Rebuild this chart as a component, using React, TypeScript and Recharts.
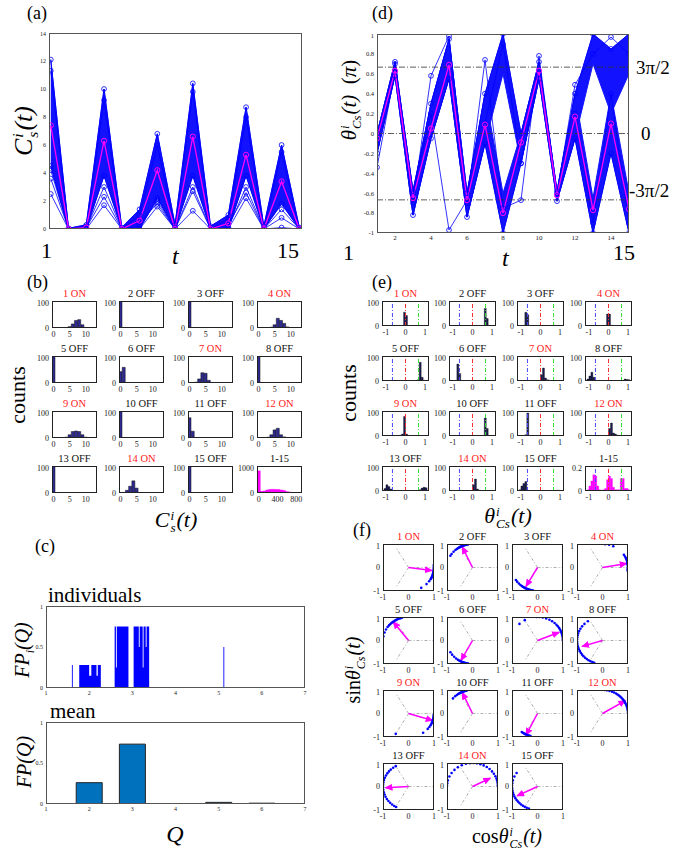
import React from 'react';
import {
  ComposedChart,
  BarChart,
  Bar,
  Line,
  Area,
  XAxis,
  YAxis,
  ReferenceLine,
  Scatter,
} from 'recharts';

const SERIF = '"Liberation Serif", "DejaVu Serif", serif';

// ---- (a) and (d): time steps ----
const T_STEPS = [1, 2, 3, 4, 5, 6, 7, 8, 9, 10, 11, 12, 13, 14, 15];

// (a) C_s^i(t)
const C_MEAN = [7.4, 0, 0.1, 6.3, 0, 0.6, 4.2, 0, 6.6, 0, 0.4, 5.3, 0, 3.4, 0];
const C_HI = [12.1, 0.05, 0.3, 10.0, 0.1, 1.4, 6.8, 0.3, 10.4, 0.2, 1.0, 8.7, 0.2, 6.0, 0.1];
const C_DENSE_LO = [4.5, 0, 0, 3.8, 0, 0, 2.2, 0, 3.8, 0, 0, 3.8, 0, 1.8, 0];
const C_LINE_1 = [3.6, 0, 0.05, 3.0, 0, 0.2, 2.0, 0, 3.0, 0, 0.1, 3.0, 0, 1.4, 0];
const C_LINE_2 = [2.5, 0, 0, 1.7, 0, 0, 1.6, 0, 1.3, 0, 0, 2.2, 0, 0.1, 0];
const C_LINE_3 = [4.2, 0.02, 0.1, 2.3, 0, 0.5, 1.8, 0, 2.7, 0, 0.3, 2.6, 0, 0.8, 0];
const C_LINE_4 = [11.3, 0, 0.2, 9.2, 0, 1.0, 6.0, 0.1, 9.8, 0, 0.7, 8.0, 0, 5.5, 0];

// (d) theta_Cs(t) in units of pi
const TH_MEAN = [-0.05, 0.63, -0.65, 0.05, 0.69, -0.67, 0.09, -0.8, -0.09, 0.63, -0.62, 0.17, -0.77, 0.1, -0.76];
const TH_UP_LO = [-0.2, 0.58, -0.82, -0.05, 0.55, -0.84, -0.1, 0.6, -0.3, 0.55, -0.68, -0.05, 0.7, 0.2, 0.6];
const TH_UP_HI = [0.0, 0.72, -0.58, 0.3, 0.95, -0.6, 0.4, 1.0, 0.0, 0.72, -0.58, 0.4, 1.0, 0.85, 1.0];
const TH_DN_LO = [-0.2, 0.58, -0.82, -0.05, 0.55, -0.84, -0.1, -1.0, -0.3, 0.55, -0.68, -0.05, -1.0, -0.2, -1.0];
const TH_DN_HI = [0.0, 0.72, -0.58, 0.3, 0.95, -0.6, 0.4, -0.6, 0.0, 0.72, -0.58, 0.4, -0.65, 0.4, -0.6];
const TH_OUT_1 = [-0.34, 0.62, -0.7, 0.58, 0.98, -0.7, 0.74, -0.75, -0.67, 0.78, -0.6, 0.49, 0.8, 0.97, 0.8];
const TH_OUT_2 = [-0.1, 0.7, -0.6, 0.2, -0.97, -0.67, 0.1, 0.9, -0.3, 0.6, -0.62, 0.2, -0.9, 0.4, -0.9];

// ---- (b) histograms of C_s^i(t) ----
const C_BINS = [0, 1, 2, 3, 4, 5, 6, 7, 8, 9, 10, 11, 12, 13];
const C_COUNTS = [
  [0, 0, 0, 0, 1, 5, 15, 28, 31, 12, 2, 0, 0, 0],
  [100, 0, 0, 0, 0, 0, 0, 0, 0, 0, 0, 0, 0, 0],
  [100, 0, 0, 0, 0, 0, 0, 0, 0, 0, 0, 0, 0, 0],
  [0, 0, 0, 0, 3, 12, 36, 28, 17, 4, 0, 0, 0, 0],
  [100, 0, 0, 0, 0, 0, 0, 0, 0, 0, 0, 0, 0, 0],
  [42, 58, 0, 0, 0, 0, 0, 0, 0, 0, 0, 0, 0, 0],
  [0, 0, 3, 15, 38, 36, 10, 2, 0, 0, 0, 0, 0, 0],
  [100, 0, 0, 0, 0, 0, 0, 0, 0, 0, 0, 0, 0, 0],
  [0, 0, 0, 0, 3, 12, 24, 26, 24, 12, 3, 0, 0, 0],
  [100, 0, 0, 0, 0, 0, 0, 0, 0, 0, 0, 0, 0, 0],
  [75, 25, 0, 0, 0, 0, 0, 0, 0, 0, 0, 0, 0, 0],
  [0, 0, 0, 3, 12, 30, 36, 12, 4, 0, 0, 0, 0, 0],
  [100, 0, 0, 0, 0, 0, 0, 0, 0, 0, 0, 0, 0, 0],
  [0, 2, 10, 25, 45, 18, 2, 0, 0, 0, 0, 0, 0, 0],
  [100, 0, 0, 0, 0, 0, 0, 0, 0, 0, 0, 0, 0, 0],
];
const C_TOTAL_BINS = [0, 60, 120, 180, 240, 300, 360, 420, 480, 540, 600, 660, 720, 780, 840];
const C_TOTAL = [820, 60, 70, 110, 130, 135, 130, 125, 110, 90, 50, 30, 20, 15, 10];

// ---- (e) histograms of theta (units of pi) ----
const E_BINS = [-1.05, -0.95, -0.85, -0.75, -0.65, -0.55, -0.45, -0.35, -0.25, -0.15, -0.05,
  0.05, 0.15, 0.25, 0.35, 0.45, 0.55, 0.65, 0.75, 0.85, 0.95, 1.05];
const E_COUNTS = [
  [0, 0, 0, 0, 0, 0, 0, 0, 0, 0, 55, 42, 0, 0, 0, 0, 0, 0, 0, 0, 0, 0],
  [0, 0, 0, 0, 0, 0, 0, 0, 0, 0, 0, 0, 0, 0, 0, 0, 0, 70, 30, 0, 0, 0],
  [0, 0, 0, 55, 45, 0, 0, 0, 0, 0, 0, 0, 0, 0, 0, 0, 0, 0, 0, 0, 0, 0],
  [0, 0, 0, 0, 0, 0, 0, 0, 0, 0, 48, 48, 3, 0, 0, 0, 0, 0, 0, 0, 0, 0],
  [0, 0, 0, 0, 0, 0, 0, 0, 0, 0, 0, 0, 0, 0, 0, 0, 0, 5, 75, 15, 3, 0],
  [0, 0, 0, 68, 30, 0, 0, 0, 0, 0, 0, 0, 0, 0, 0, 0, 0, 0, 0, 0, 0, 0],
  [0, 0, 0, 0, 0, 0, 0, 0, 0, 0, 0, 25, 52, 12, 5, 3, 0, 0, 0, 0, 0, 0],
  [8, 20, 35, 15, 0, 0, 0, 0, 0, 0, 0, 0, 0, 0, 0, 0, 0, 0, 0, 8, 6, 5],
  [0, 0, 0, 0, 0, 0, 0, 0, 3, 8, 78, 8, 0, 0, 0, 0, 0, 0, 0, 0, 0, 0],
  [0, 0, 0, 0, 0, 0, 0, 0, 0, 0, 0, 0, 0, 0, 0, 0, 0, 72, 30, 0, 0, 0],
  [0, 0, 0, 5, 92, 0, 0, 0, 0, 0, 0, 0, 0, 0, 0, 0, 0, 0, 0, 0, 0, 0],
  [0, 0, 0, 0, 0, 0, 0, 0, 0, 0, 0, 30, 52, 12, 8, 3, 0, 0, 0, 0, 0, 0],
  [10, 25, 18, 8, 0, 0, 0, 0, 0, 0, 0, 0, 0, 0, 0, 0, 0, 0, 5, 12, 15, 13],
  [0, 0, 0, 0, 0, 0, 0, 0, 0, 0, 0, 25, 48, 8, 4, 0, 2, 0, 0, 2, 1, 0],
  [5, 20, 30, 38, 0, 0, 0, 0, 0, 0, 0, 0, 0, 0, 0, 0, 0, 0, 0, 3, 3, 0],
];
const E_TOTAL = [0.01, 0.04, 0.08, 0.13, 0.12, 0.04, 0.01, 0.005, 0.01, 0.02, 0.09,
  0.12, 0.1, 0.03, 0.01, 0.01, 0.01, 0.1, 0.1, 0.02, 0.02, 0.01];

const PANEL_TITLES = ['1 ON', '2 OFF', '3 OFF', '4 ON', '5 OFF', '6 OFF', '7 ON', '8 OFF',
  '9 ON', '10 OFF', '11 OFF', '12 ON', '13 OFF', '14 ON', '15 OFF'];
const PANEL_ON = [true, false, false, true, false, false, true, false, true, false, false, true, false, true, false];

// ---- (c) FP(Q) ----
const IND_Q = [1, 1.6, 1.62, 1.77, 2.0, 2.05, 2.17, 2.2, 2.27, 2.59, 2.62, 2.64, 2.91, 3.03,
  3.15, 3.17, 3.24, 3.26, 3.31, 3.33, 3.39, 5.11, 5.13, 7];
const IND_FP = [0, 0.28, 0, 0.28, 0.15, 0.28, 0.15, 0.28, 0, 0.75, 0.25, 0.75, 0, 0.75,
  0.5, 0.75, 0.25, 0.75, 0.5, 0.75, 0, 0.5, 0, 0];
const MEAN_Q = [2, 3, 4, 5, 6];
const MEAN_FP = [0.26, 0.73, 0.005, 0.02, 0.01];

// ---- (f) unit-circle phases (degrees) and mean vectors ----
const F_ANGLES = [
  [-60, -45, -36, -30, -27, -24, -21, -18, -16, -14, -12, -10, -8, -6, -4, -2, 0, 2, 4, 6],
  [100, 102, 104, 106, 108, 110, 112, 114, 116, 118, 120, 122, 125, 128, 132, 138, 145, 150],
  [-100, -102, -104, -106, -108, -110, -112, -114, -116, -118, -120, -122, -125, -128, -132, -137, -143, -148],
  [-8, -6, -4, -2, 0, 2, 4, 6, 8, 10, 13, 16, 20, 24, 28, 33, 65, 75, 84],
  [105, 108, 111, 114, 117, 120, 123, 126, 129, 132, 136, 140, 145, 152, 160, 170],
  [-100, -102, -104, -106, -108, -110, -112, -114, -116, -118, -121, -125, -130, -136, -143, -150],
  [0, 3, 6, 9, 12, 15, 18, 21, 24, 28, 32, 37, 42, 48, 55, 62, 70, 78, 86, 92, 120, 135],
  [125, 135, 143, 150, 156, 162, 167, 172, 177, 182, 187, 192, 197, 202, 207, 212, 217, 222, 227, 232, 237, 242, 247, 251],
  [-2, -4, -6, -8, -10, -12, -14, -16, -18, -20, -23, -26, -30, -35, -41, -55, -120],
  [103, 105, 107, 109, 111, 113, 115, 117, 119, 121, 124, 128, 133, 140],
  [-106, -108, -110, -112, -114, -116, -118, -120, -122, -125, -128],
  [2, 6, 10, 14, 18, 22, 26, 30, 34, 38, 42, 46, 50, 54, 58, 63, 68, 74, 80, 86],
  [120, 127, 134, 140, 146, 152, 158, 164, 170, 176, 182, 188, 194, 200, 206, 212, 218, 224, 230, 236, 241],
  [0, 3, 6, 10, 15, 20, 26, 33, 40, 48, 56, 64, 72, 80, 88, 96, 105, 115, 125, 135, 145, 155, 165, 172, 178],
  [145, 155, 165, 172, 178, 184, 190, 195, 200, 205, 210, 215, 220, 225, 230, 235, 240, 245, 250],
];
const F_MEAN_X = [0.92, -0.4, -0.45, 0.95, -0.6, -0.45, 0.85, -0.8, 0.95, -0.4, -0.45, 0.9, -0.9, 0.7, -0.8];
const F_MEAN_Y = [-0.13, 0.88, -0.8, 0.17, 0.8, -0.85, 0.35, -0.25, -0.3, 0.9, -0.92, 0.55, -0.05, 0.35, -0.4];

// ---- layout ----
const B_COLS = [52, 119, 188, 257];
const B_ROWS = [301, 356, 411, 466];
const E_COLS = [382, 449, 517, 585];
const E_ROWS = [301, 356, 411, 466];
const F_COLS = [383, 447, 512, 577];
const F_ROWS = [544, 617, 690, 763];

const tickS = (size: number) => ({ fontSize: size, fill: '#222', fontFamily: SERIF });

function Framed({ x, y, w, h, l, b, border = '#555', bw = 1, children }: any) {
  return (
    <div style={{ position: 'absolute', left: x - l, top: y - 2, width: w + l + 2, height: h + b + 4 }}>
      {children}
      <div
        style={{
          position: 'absolute', left: l, top: 2, width: w, height: h,
          border: `${bw}px solid ${border}`, boxSizing: 'border-box', pointerEvents: 'none',
        }}
      />
    </div>
  );
}

function Label({ x, y, size, rotate, center, color = '#000', italic, children }: any) {
  const tf = [center ? 'translate(-50%,-50%)' : '', rotate ? 'rotate(-90deg)' : ''].join(' ');
  return (
    <div
      style={{
        position: 'absolute', left: x, top: y, fontSize: size, fontFamily: SERIF, lineHeight: 1,
        whiteSpace: 'nowrap', transform: tf, color, fontStyle: italic ? 'italic' : 'normal',
      }}
    >
      {children}
    </div>
  );
}

// stacked superscript / subscript (first line's baseline sits above the text baseline)
function SupSub({ sup, sub }: { sup: string; sub: string }) {
  return (
    <span
      style={{
        display: 'inline-flex', flexDirection: 'column', fontSize: '0.6em', lineHeight: 0.95,
        verticalAlign: '0.55em', marginLeft: 1, marginRight: 1, fontStyle: 'italic',
      }}
    >
      <span>{sup}</span>
      <span>{sub}</span>
    </span>
  );
}

const blueDot = { r: 2.4, stroke: '#0000ff', fill: 'none', strokeWidth: 0.8 };
const pinkDot = { r: 2.6, stroke: '#ff00ff', fill: 'none', strokeWidth: 1 };

function PanelA() {
  const x = 49, y = 33, w = 253, h = 196, l = 14, b = 2;
  const data = T_STEPS.map((t, i) => ({
    t, band: [C_DENSE_LO[i], C_HI[i]], hi: C_HI[i], lo: C_DENSE_LO[i],
    l1: C_LINE_1[i], l2: C_LINE_2[i], l3: C_LINE_3[i], l4: C_LINE_4[i], mean: C_MEAN[i],
  }));
  return (
    <Framed x={x} y={y} w={w} h={h} l={l} b={b}>
      <ComposedChart width={w + l + 2} height={h + b + 4} data={data} margin={{ top: 2, right: 2, left: 0, bottom: 2 }}>
        <XAxis dataKey="t" type="number" domain={[0.9, 15.15]} allowDataOverflow ticks={[]} tick={false} axisLine={false} tickLine={false} height={b} />
        <YAxis type="number" domain={[0, 14]} allowDataOverflow ticks={[0, 2, 4, 6, 8, 10, 12, 14]} tick={tickS(6)} axisLine={false} tickLine={false} width={l} tickSize={1} tickMargin={2} />
        <Area dataKey="band" type="linear" fill="#1212ff" stroke="#1212ff" fillOpacity={1} isAnimationActive={false} />
        {['l1', 'l2', 'l3', 'l4', 'hi', 'lo'].map((k) => (
          <Line key={k} dataKey={k} type="linear" stroke="#0000ff" strokeWidth={0.8} dot={blueDot} isAnimationActive={false} />
        ))}
        <Line dataKey="mean" type="linear" stroke="#ff00ff" strokeWidth={1.3} dot={pinkDot} isAnimationActive={false} />
      </ComposedChart>
    </Framed>
  );
}

function PanelD() {
  const x = 377, y = 34, w = 252, h = 199, l = 16, b = 10;
  const data = T_STEPS.map((t, i) => ({
    t, up: [TH_UP_LO[i], TH_UP_HI[i]], dn: [TH_DN_LO[i], TH_DN_HI[i]],
    uh: TH_UP_HI[i], dl: TH_DN_LO[i], o1: TH_OUT_1[i], o2: TH_OUT_2[i], mean: TH_MEAN[i],
  }));
  return (
    <Framed x={x} y={y} w={w} h={h} l={l} b={b}>
      <ComposedChart width={w + l + 2} height={h + b + 4} data={data} margin={{ top: 2, right: 2, left: 0, bottom: 2 }}>
        <XAxis dataKey="t" type="number" domain={[1, 15]} allowDataOverflow ticks={[2, 4, 6, 8, 10, 12, 14]} tick={tickS(7)} axisLine={false} tickLine={false} height={b} tickSize={1} tickMargin={1} />
        <YAxis type="number" domain={[-1, 1]} allowDataOverflow ticks={[-1, -0.8, -0.6, -0.4, -0.2, 0, 0.2, 0.4, 0.6, 0.8, 1]} tickFormatter={(v: number) => String(Number(v.toFixed(1)))} tick={tickS(6.5)} axisLine={false} tickLine={false} width={l} tickSize={1} tickMargin={2} />
        <Area dataKey="up" type="linear" fill="#1212ff" stroke="#1212ff" fillOpacity={1} isAnimationActive={false} />
        <Area dataKey="dn" type="linear" fill="#1212ff" stroke="#1212ff" fillOpacity={1} isAnimationActive={false} />
        {['uh', 'dl', 'o1', 'o2'].map((k) => (
          <Line key={k} dataKey={k} type="linear" stroke="#0000ff" strokeWidth={0.8} dot={blueDot} isAnimationActive={false} />
        ))}
        {[0.667, 0, -0.667].map((v) => (
          <ReferenceLine key={v} y={v} stroke="#333" strokeWidth={0.8} strokeDasharray="6 2 1 2" />
        ))}
        <Line dataKey="mean" type="linear" stroke="#ff00ff" strokeWidth={1.3} dot={pinkDot} isAnimationActive={false} />
      </ComposedChart>
    </Framed>
  );
}

function Title({ x, y, w, text, on }: any) {
  return (
    <div
      style={{
        position: 'absolute', left: x - 10, top: y - 12, width: w + 20, textAlign: 'center',
        fontFamily: SERIF, fontSize: 10.5, lineHeight: 1, color: on ? '#ff1a1a' : '#111',
      }}
    >
      {text}
    </div>
  );
}

function HistC({ x, y, bins, counts, domain, xTicks, yTicks, yMax, fill, l = 17 }: any) {
  const w = 45, h = 27, b = 12;
  const data = bins.map((c: number, i: number) => ({ c, n: counts[i] }));
  return (
    <Framed x={x} y={y} w={w} h={h} l={l} b={b} border="#222" bw={1.2}>
      <BarChart width={w + l + 2} height={h + b + 4} data={data} margin={{ top: 2, right: 2, left: 0, bottom: 2 }} barCategoryGap={0} barGap={0}>
        <XAxis dataKey="c" type="number" domain={domain} allowDataOverflow ticks={xTicks} tick={tickS(8)} axisLine={false} tickLine={false} height={b} tickSize={1} tickMargin={2} />
        <YAxis type="number" domain={[0, yMax]} allowDataOverflow ticks={yTicks} tick={tickS(8)} axisLine={false} tickLine={false} width={l} tickSize={1} tickMargin={2} />
        <Bar dataKey="n" fill={fill} stroke={fill === '#ff00ff' ? '#ff00ff' : '#111'} strokeWidth={0.5} isAnimationActive={false} />
      </BarChart>
    </Framed>
  );
}

function HistE({ x, y, counts, yMax, yTicks, fill }: any) {
  const w = 47, h = 25, l = 17, b = 12;
  const data = E_BINS.map((c, i) => ({ c, n: counts[i] }));
  return (
    <Framed x={x} y={y} w={w} h={h} l={l} b={b} border="#222" bw={1.2}>
      <ComposedChart width={w + l + 2} height={h + b + 4} data={data} margin={{ top: 2, right: 2, left: 0, bottom: 2 }} barCategoryGap={0} barGap={0}>
        <XAxis dataKey="c" type="number" domain={[-1.2, 1.2]} allowDataOverflow ticks={[-1, 0, 1]} tick={tickS(8)} axisLine={false} tickLine={false} height={b} tickSize={1} tickMargin={2} />
        <YAxis type="number" domain={[0, yMax]} allowDataOverflow ticks={yTicks} tick={tickS(8)} axisLine={false} tickLine={false} width={l} tickSize={1} tickMargin={2} />
        <ReferenceLine x={-0.667} stroke="#4a4aff" strokeWidth={1} strokeDasharray="4 2 1 2" />
        <ReferenceLine x={0} stroke="#ff3030" strokeWidth={1} strokeDasharray="4 2 1 2" />
        <ReferenceLine x={0.667} stroke="#30dd30" strokeWidth={1} strokeDasharray="4 2 1 2" />
        <Bar dataKey="n" fill={fill} stroke={fill === '#ff00ff' ? '#ff00ff' : '#000'} strokeWidth={0.3} isAnimationActive={false} />
      </ComposedChart>
    </Framed>
  );
}

function Circ({ x, y, idx }: any) {
  const w = 51, h = 47, l = 12, b = 12;
  const pts = F_ANGLES[idx].map((a) => ({
    x: Math.cos((a * Math.PI) / 180),
    y: Math.sin((a * Math.PI) / 180),
  }));
  const arrow = [{ x: 0, y: 0 }, { x: F_MEAN_X[idx], y: F_MEAN_Y[idx] }];
  const id = `arrowhead-${idx}`;
  const seg = (ex: number, ey: number) => [{ x: 0, y: 0 }, { x: ex, y: ey }];
  return (
    <Framed x={x} y={y} w={w} h={h} l={l} b={b} border="#222" bw={1.2}>
      <ComposedChart width={w + l + 2} height={h + b + 4} margin={{ top: 2, right: 2, left: 0, bottom: 2 }}>
        <defs>
          <marker id={id} markerWidth="8" markerHeight="7" refX="7" refY="3.5" orient="auto" markerUnits="userSpaceOnUse">
            <path d="M0,0 L8,3.5 L0,7 z" fill="#ff00ff" />
          </marker>
        </defs>
        <XAxis dataKey="x" type="number" domain={[-1, 1]} allowDataOverflow ticks={[-1, 0, 1]} tick={tickS(8)} axisLine={false} tickLine={false} height={b} tickSize={1} tickMargin={2} />
        <YAxis dataKey="y" type="number" domain={[-1, 1]} allowDataOverflow ticks={[-1, 0, 1]} tick={tickS(8)} axisLine={false} tickLine={false} width={l} tickSize={1} tickMargin={2} />
        <ReferenceLine segment={seg(1, 0)} stroke="#999" strokeWidth={0.8} strokeDasharray="3 2 1 2" />
        <ReferenceLine segment={seg(-0.5, 0.866)} stroke="#999" strokeWidth={0.8} strokeDasharray="3 2 1 2" />
        <ReferenceLine segment={seg(-0.5, -0.866)} stroke="#999" strokeWidth={0.8} strokeDasharray="3 2 1 2" />
        <Scatter
          data={pts}
          dataKey="y"
          isAnimationActive={false}
          shape={(p: any) => <circle cx={p.cx} cy={p.cy} r={1.3} fill="#0000ff" />}
        />
        <Line data={arrow} dataKey="y" type="linear" stroke="#ff00ff" strokeWidth={1.5} dot={false} markerEnd={`url(#${id})`} isAnimationActive={false} />
      </ComposedChart>
    </Framed>
  );
}

function PanelC() {
  const l = 12, b = 10, w = 259, h = 82;
  const ind = IND_Q.map((q, i) => ({ q, fp: IND_FP[i] }));
  const mean = MEAN_Q.map((q, i) => ({ q, fp: MEAN_FP[i] }));
  return (
    <>
      <Framed x={46} y={606} w={w} h={h} l={l} b={b}>
        <ComposedChart width={w + l + 2} height={h + b + 4} data={ind} margin={{ top: 2, right: 2, left: 0, bottom: 2 }}>
          <XAxis dataKey="q" type="number" domain={[1, 7]} allowDataOverflow ticks={[1, 2, 3, 4, 5, 6, 7]} tick={tickS(6)} axisLine={false} tickLine={false} height={b} tickSize={1} tickMargin={2} />
          <YAxis type="number" domain={[0, 1]} allowDataOverflow ticks={[0, 0.5, 1]} tick={tickS(6)} axisLine={false} tickLine={false} width={l} tickSize={1} tickMargin={2} />
          <Area dataKey="fp" type="stepAfter" fill="#0000ff" fillOpacity={1} stroke="none" isAnimationActive={false} />
        </ComposedChart>
      </Framed>
      <Framed x={46} y={722} w={w} h={h} l={l} b={b}>
        <BarChart width={w + l + 2} height={h + b + 4} data={mean} margin={{ top: 2, right: 2, left: 0, bottom: 2 }} barCategoryGap="20%">
          <XAxis dataKey="q" type="number" domain={[1, 7]} allowDataOverflow ticks={[1, 2, 3, 4, 5, 6, 7]} tick={tickS(6)} axisLine={false} tickLine={false} height={b} tickSize={1} tickMargin={2} />
          <YAxis type="number" domain={[0, 1]} allowDataOverflow ticks={[0, 0.5, 1]} tick={tickS(6)} axisLine={false} tickLine={false} width={l} tickSize={1} tickMargin={2} />
          <Bar dataKey="fp" fill="#0072bd" stroke="#222" strokeWidth={1} isAnimationActive={false} />
        </BarChart>
      </Framed>
    </>
  );
}

export default function App() {
  return (
    <div style={{ position: 'absolute', left: 0, top: 0, width: 685, height: 851, background: '#fff', overflow: 'hidden', fontFamily: SERIF }}>
      {/* (a) */}
      <Label x={27} y={4} size={18}>(a)</Label>
      <PanelA />
      <Label x={26} y={131} size={26} center rotate>
        <i>C</i><SupSub sup="i" sub="s" /><i>(t)</i>
      </Label>
      <Label x={41} y={240} size={22}>1</Label>
      <Label x={277} y={240} size={22}>15</Label>
      <Label x={172} y={244} size={24} italic>t</Label>

      {/* (d) */}
      <Label x={372} y={4} size={18}>(d)</Label>
      <PanelD />
      <Label x={351} y={100} size={21} center rotate>
        <i>θ</i><SupSub sup="i" sub="Cs" /><i>(t)</i>&nbsp; (<i>π</i>)
      </Label>
      <Label x={636} y={58} size={19}>3π/2</Label>
      <Label x={641} y={124} size={19}>0</Label>
      <Label x={629} y={181} size={19}>-3π/2</Label>
      <Label x={343} y={242} size={22}>1</Label>
      <Label x={613} y={242} size={22}>15</Label>
      <Label x={502} y={246} size={24} italic>t</Label>

      {/* (b) */}
      <Label x={27} y={273} size={18}>(b)</Label>
      <Label x={18} y={395} size={22} center rotate>counts</Label>
      {PANEL_TITLES.map((title, i) => {
        const x = B_COLS[i % 4], y = B_ROWS[Math.floor(i / 4)];
        return (
          <React.Fragment key={`b${i}`}>
            <Title x={x} y={y} w={45} text={title} on={PANEL_ON[i]} />
            <HistC x={x} y={y} bins={C_BINS} counts={C_COUNTS[i]} domain={[-0.5, 13.5]} xTicks={[0, 5, 10]} yTicks={[0, 50, 100]} yMax={100} fill="#2e2a92" />
          </React.Fragment>
        );
      })}
      <Title x={B_COLS[3]} y={B_ROWS[3]} w={45} text="1-15" on={false} />
      <HistC x={B_COLS[3]} y={B_ROWS[3]} l={22} bins={C_TOTAL_BINS} counts={C_TOTAL} domain={[-35, 920]} xTicks={[0, 400, 800]} yTicks={[0, 500, 1000]} yMax={1000} fill="#ff00ff" />
      <Label x={176} y={522} size={22} center>
        <i>C</i><SupSub sup="i" sub="s" /><i>(t)</i>
      </Label>

      {/* (e) */}
      <Label x={372} y={273} size={18}>(e)</Label>
      <Label x={349} y={393} size={22} center rotate>counts</Label>
      {PANEL_TITLES.map((title, i) => {
        const x = E_COLS[i % 4], y = E_ROWS[Math.floor(i / 4)];
        return (
          <React.Fragment key={`e${i}`}>
            <Title x={x} y={y} w={47} text={title} on={PANEL_ON[i]} />
            <HistE x={x} y={y} counts={E_COUNTS[i]} yMax={100} yTicks={[0, 50, 100]} fill="#1c1c50" />
          </React.Fragment>
        );
      })}
      <Title x={E_COLS[3]} y={E_ROWS[3]} w={47} text="1-15" on={false} />
      <HistE x={E_COLS[3]} y={E_ROWS[3]} counts={E_TOTAL} yMax={0.2} yTicks={[0, 0.1, 0.2]} fill="#ff00ff" />
      <Label x={508} y={518} size={22} center>
        <i>θ</i><SupSub sup="i" sub="Cs" /><i>(t)</i>
      </Label>

      {/* (c) */}
      <Label x={35} y={537} size={18}>(c)</Label>
      <Label x={48} y={585} size={21}>individuals</Label>
      <Label x={50} y={701} size={21}>mean</Label>
      <PanelC />
      <Label x={24} y={650} size={20} center rotate italic>
        FP<sub style={{ fontSize: '0.6em' }}>i</sub>(Q)
      </Label>
      <Label x={24} y={762} size={20} center rotate italic>FP(Q)</Label>
      <Label x={175} y={834} size={24} center italic>Q</Label>

      {/* (f) */}
      <Label x={353} y={521} size={18}>(f)</Label>
      {PANEL_TITLES.map((title, i) => {
        const x = F_COLS[i % 4], y = F_ROWS[Math.floor(i / 4)];
        return (
          <React.Fragment key={`f${i}`}>
            <Title x={x} y={y} w={51} text={title} on={PANEL_ON[i]} />
            <Circ x={x} y={y} idx={i} />
          </React.Fragment>
        );
      })}
      <Label x={355} y={670} size={20} center rotate>
        sin<i>θ</i><SupSub sup="i" sub="Cs" /><i>(t)</i>
      </Label>
      <Label x={507} y={838} size={20} center>
        cos<i>θ</i><SupSub sup="i" sub="Cs" /><i>(t)</i>
      </Label>
    </div>
  );
}
